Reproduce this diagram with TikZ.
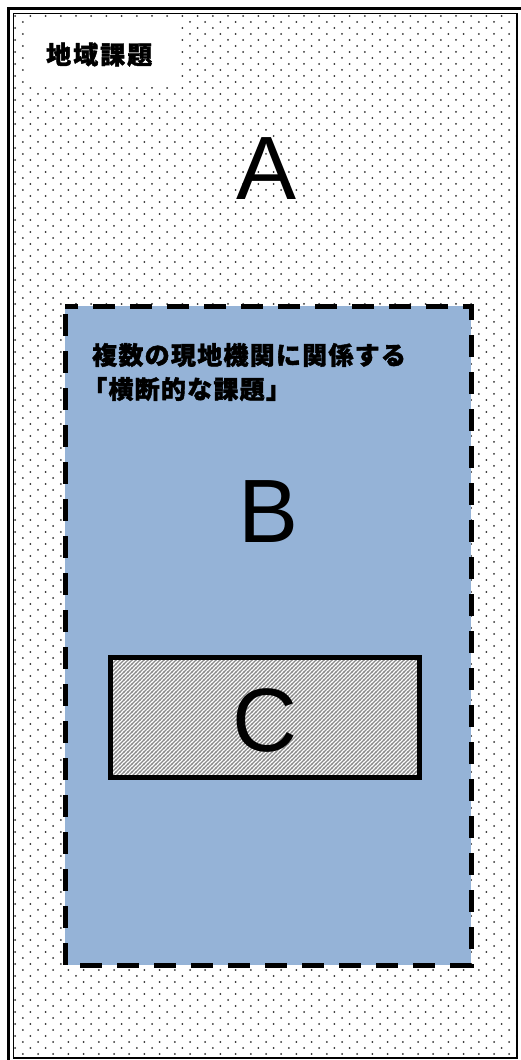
\documentclass[tikz,border=0pt]{standalone}
\usepackage{fontspec}
\setmainfont{Liberation Sans}
\newfontfamily\cjklabel{Noto Sans CJK JP}[LetterSpace=8, FakeBold=1.6]
\newfontfamily\cjktext{Noto Sans CJK JP}[LetterSpace=5, FakeBold=1.6]
\usetikzlibrary{patterns}
\pgfdeclarepatternformonly{mydots}{\pgfqpoint{-1.5pt}{-1.5pt}}{\pgfqpoint{9.1pt}{7.5pt}}{\pgfqpoint{15.2pt}{12pt}}{%
  \pgfpathcircle{\pgfqpoint{0pt}{0pt}}{1pt}%
  \pgfpathcircle{\pgfqpoint{7.6pt}{6pt}}{1pt}%
  \pgfusepath{fill}}
\pgfdeclarepatternformonly{myhatch}{\pgfqpoint{-1pt}{-1pt}}{\pgfqpoint{5pt}{5pt}}{\pgfqpoint{4pt}{4pt}}{%
  \pgfsetlinewidth{1.1pt}%
  \pgfpathmoveto{\pgfqpoint{-0.5pt}{-0.5pt}}%
  \pgfpathlineto{\pgfqpoint{4.5pt}{4.5pt}}%
  \pgfusepath{stroke}}
\definecolor{bluefill}{HTML}{95B3D7}
\definecolor{dotgray}{HTML}{303030}
\definecolor{hatchgray}{HTML}{8A8A8A}
\tikzset{
  bigletter/.style={font=\fontsize{90}{90}\selectfont, inner sep=0pt, anchor=base},
  jplabel/.style={font=\cjklabel\bfseries\fontsize{25}{25}\selectfont, inner sep=0pt, anchor=base west},
  jptext/.style={font=\cjktext\bfseries\fontsize{25}{25}\selectfont, inner sep=0pt, anchor=base west},
}
\begin{document}
\begin{tikzpicture}[x=1pt,y=-1pt]
\useasboundingbox (0,0) rectangle (521,1060);
\fill[white] (0,0) rectangle (521,1060);
% outer frame region with dots
\fill[pattern=mydots, pattern color=dotgray] (13.5,13.5) rectangle (517,1058);
\draw[line width=2.5pt] (8.25,8.25) rectangle (525,1066);
\draw[line width=1.2pt] (13.5,13.5) rectangle (517,1058);
% label
\node[fill=white, minimum width=153pt, minimum height=69pt, inner sep=0pt] (labbox) at (100.5,52.5) {};
\node[jplabel] (lab) at (46,64) {地域課題};
\node[bigletter] (A) at (266.5,199) {A};
% blue region B
\fill[bluefill] (65,306) rectangle (471,965);
\draw[line width=5pt, dash pattern=on 22pt off 15pt, dash phase=-8pt] (65,306) rectangle (471,965);
\node[jptext] (l1) at (92,364.5) {複数の現地機関に関係する};
\node[jptext] (l2) at (82,398.5) {「横断的な課題」};
\node[bigletter] (B) at (269,542) {B};
% C box
\fill[white] (110.5,657.5) rectangle (419,777.5);
\fill[pattern=myhatch, pattern color=hatchgray] (110.5,657.5) rectangle (419,777.5);
\draw[line width=5pt] (110.5,657.5) rectangle (419,777.5);
\node[bigletter] (C) at (265,751) {C};
\end{tikzpicture}
\end{document}
